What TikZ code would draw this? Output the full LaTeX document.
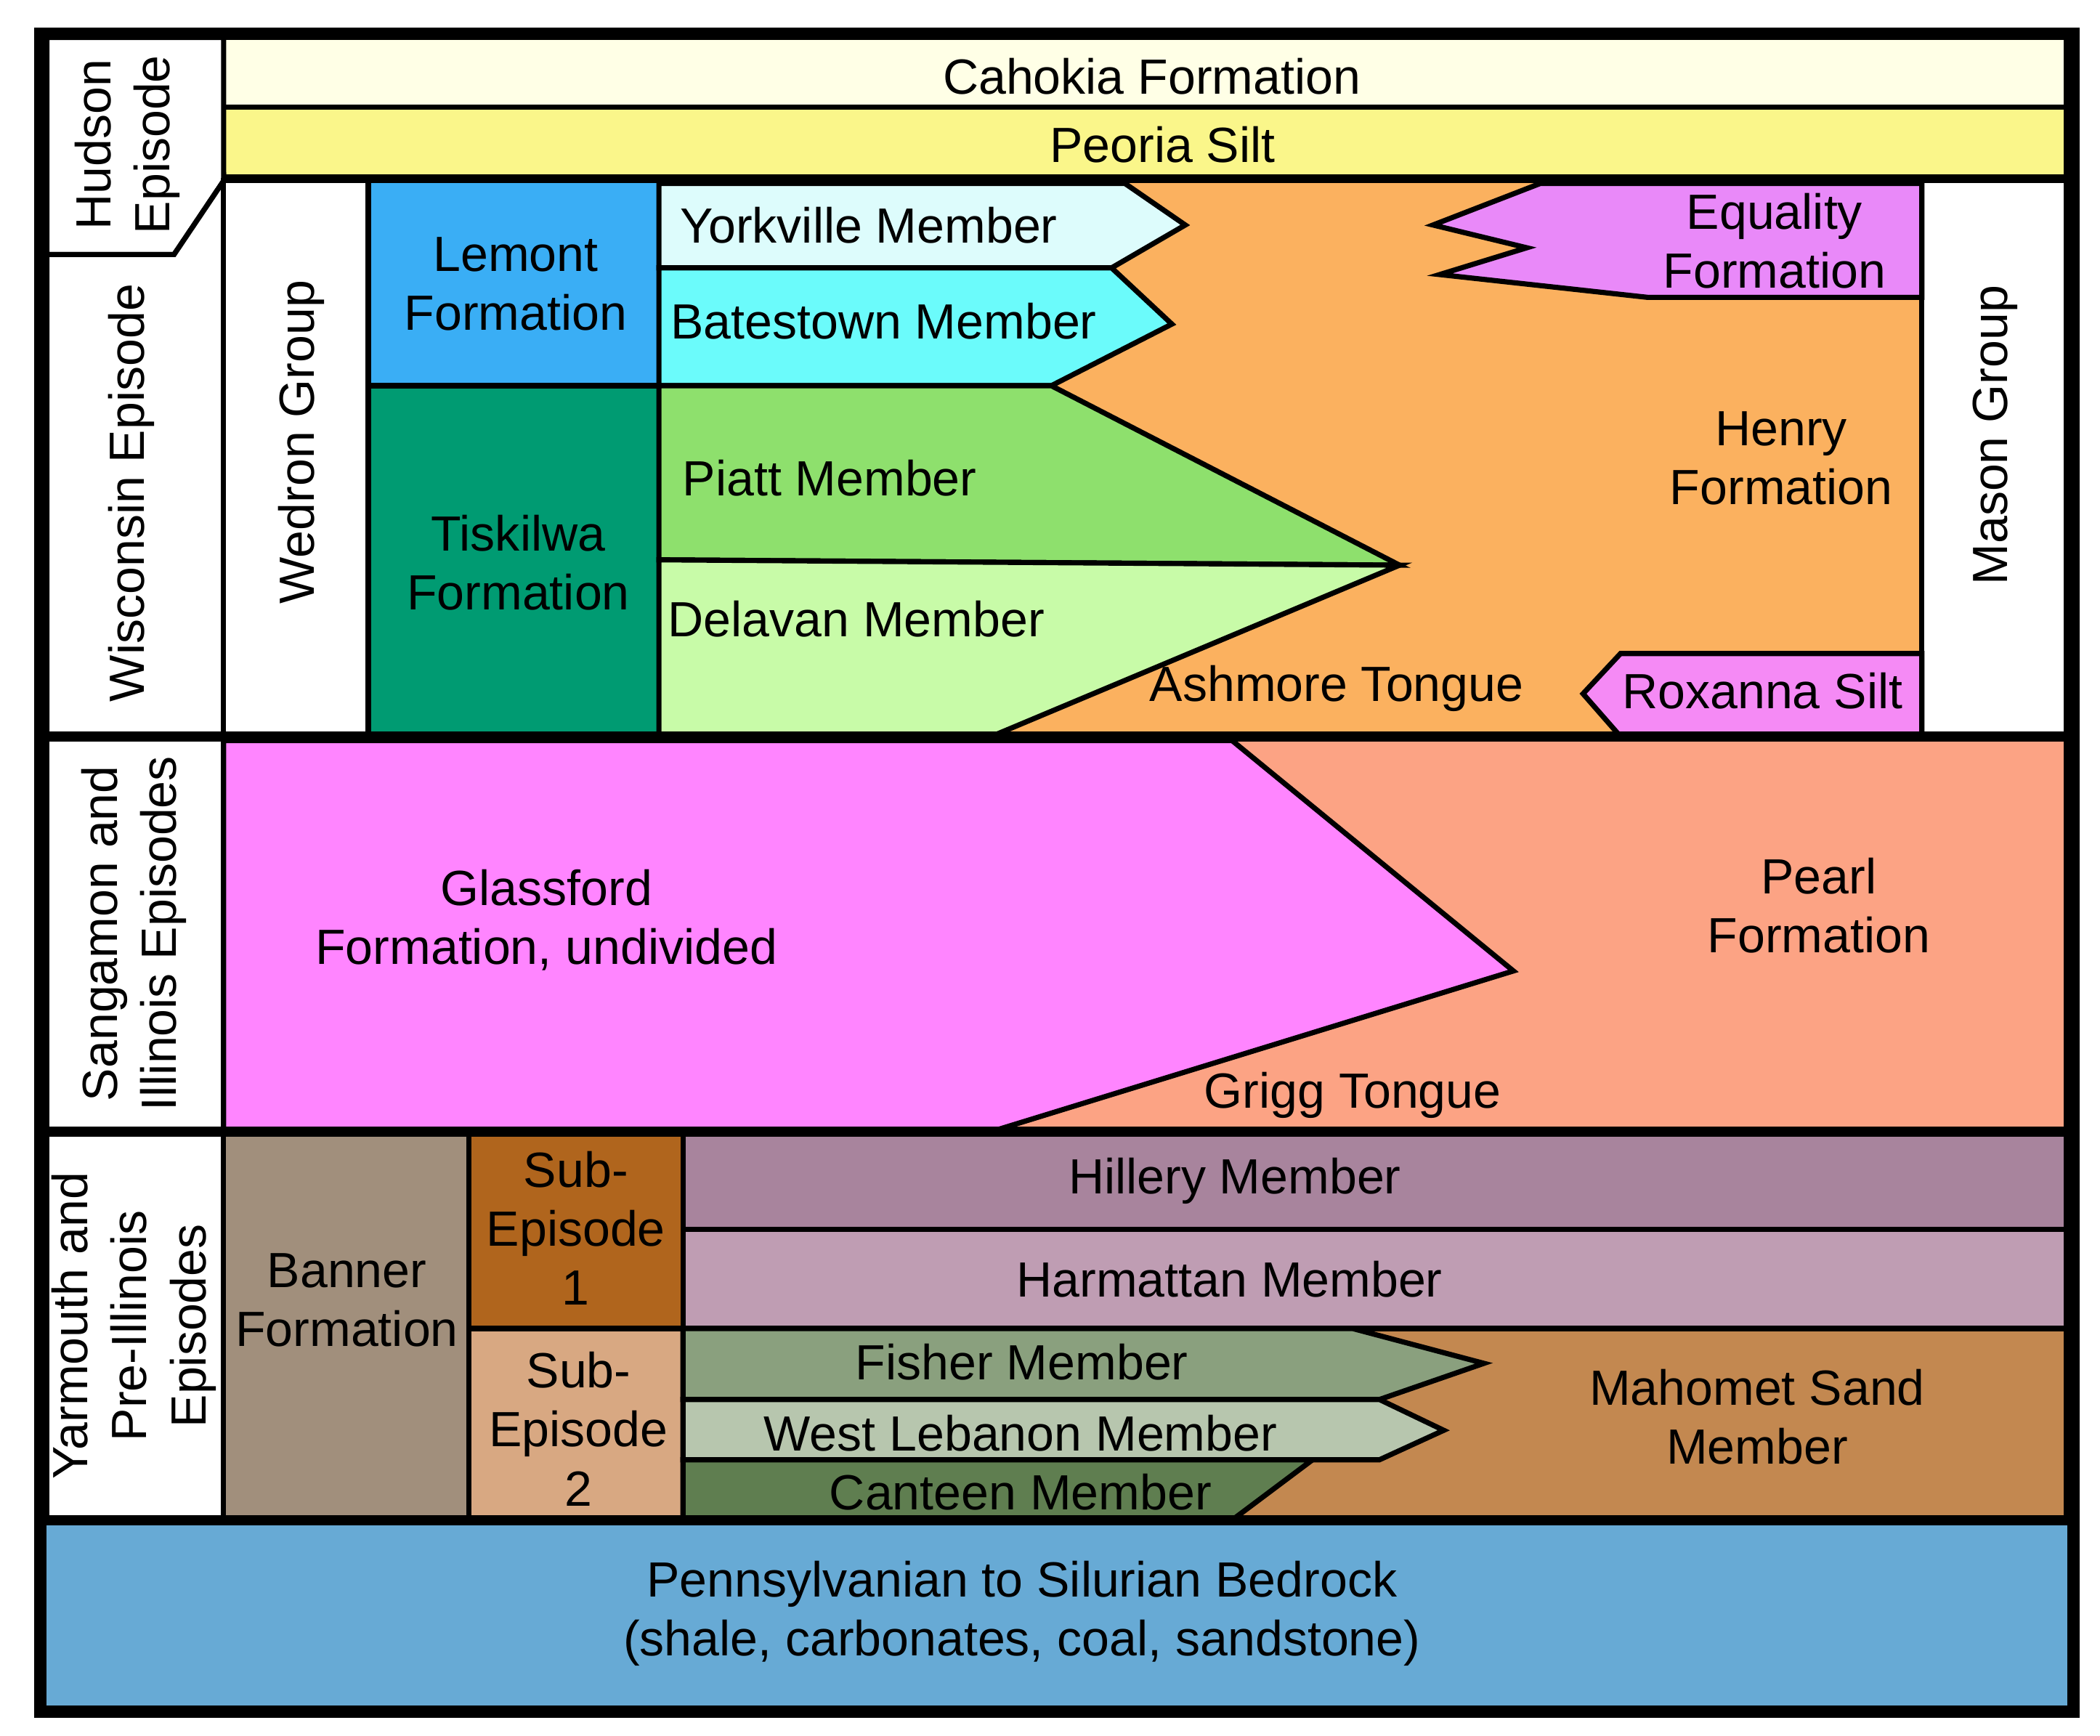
\documentclass[tikz,border=0pt]{standalone}
\usepackage{fontspec}
\setmainfont{Liberation Sans}
\begin{document}
\begin{tikzpicture}[x=0.01cm,y=-0.01cm,
 ln/.style={draw=black,line width=1.1pt,line join=miter},
 lbl/.style={font=\fontsize{10.5}{12.5}\selectfont,align=center,inner sep=0pt},
 vlbl/.style={lbl,rotate=90}]
\useasboundingbox (0,0) rectangle (1568,1296);
\fill[white] (0,0) rectangle (1568,1296);
\definecolor{cah}{HTML}{FFFFE6}\definecolor{peo}{HTML}{FAF68A}
\definecolor{lem}{HTML}{3AAEF5}\definecolor{tis}{HTML}{009B72}
\definecolor{york}{HTML}{DDFCFC}\definecolor{bat}{HTML}{6BFBFB}
\definecolor{pia}{HTML}{8EE06D}\definecolor{del}{HTML}{C8FBA8}
\definecolor{hen}{HTML}{FBB15F}\definecolor{equ}{HTML}{E989F9}
\definecolor{rox}{HTML}{F58AF5}\definecolor{gla}{HTML}{FF85FF}
\definecolor{pea}{HTML}{FCA384}\definecolor{ban}{HTML}{A18F7C}
\definecolor{sba}{HTML}{B0651D}\definecolor{sbb}{HTML}{D8A882}
\definecolor{hil}{HTML}{A8849D}\definecolor{har}{HTML}{BF9DB3}
\definecolor{mah}{HTML}{C38850}\definecolor{fis}{HTML}{8AA07E}
\definecolor{wle}{HTML}{B7C6AE}\definecolor{can}{HTML}{5F7E50}
\definecolor{bed}{HTML}{67AAD5}
% top
\draw[ln,fill=cah] (167,28) rectangle (1543,80);
\draw[ln,fill=peo] (167,80) rectangle (1543,132);
% left column
\draw[ln,fill=white] (35,28) -- (167,28) -- (167,135) -- (130,190) -- (35,190) -- cycle;
\draw[ln,fill=white] (35,190) -- (130,190) -- (167,135) -- (167,550) -- (35,550) -- cycle;
\draw[ln,fill=white] (35,550) rectangle (167,845);
\draw[ln,fill=white] (35,845) rectangle (167,1135);
% Wisconsin row
\draw[ln,fill=white] (167,135) rectangle (275,550);
\draw[ln,fill=hen] (492,135) rectangle (1435,550);
\draw[ln,fill=white] (1435,135) rectangle (1543,550);
\draw[ln,fill=lem] (275,135) rectangle (492,288);
\draw[ln,fill=tis] (275,288) rectangle (492,550);
\draw[ln,fill=york] (492,137) -- (840,137) -- (885,168) -- (830,200) -- (492,200) -- cycle;
\draw[ln,fill=bat] (492,200) -- (830,200) -- (875,242) -- (785,288) -- (492,288) -- cycle;
\draw[ln,fill=pia] (492,288) -- (785,288) -- (1045,422) -- (492,418) -- cycle;
\draw[ln,fill=del] (492,418) -- (1045,422) -- (740,550) -- (492,550) -- cycle;
\draw[ln,fill=equ] (1150,137) -- (1435,137) -- (1435,222) -- (1230,222) -- (1075,205) -- (1140,185) -- (1070,168) -- cycle;
\draw[ln,fill=rox] (1210,488) -- (1435,488) -- (1435,550) -- (1210,550) -- (1182,518) -- cycle;
% Sangamon row
\draw[ln,fill=pea] (167,550) rectangle (1543,845);
\draw[ln,fill=gla] (167,553) -- (920,553) -- (1130,725) -- (740,845) -- (167,845) -- cycle;
% Yarmouth row
\draw[ln,fill=ban] (167,845) rectangle (350,1135);
\draw[ln,fill=sba] (350,845) rectangle (510,992);
\draw[ln,fill=sbb] (350,992) rectangle (510,1135);
\draw[ln,fill=hil] (510,845) rectangle (1543,918);
\draw[ln,fill=har] (510,918) rectangle (1543,992);
\draw[ln,fill=mah] (510,992) rectangle (1543,1135);
\draw[ln,fill=fis] (510,992) -- (1010,992) -- (1108,1018) -- (1030,1045) -- (510,1045) -- cycle;
\draw[ln,fill=wle] (510,1045) -- (1030,1045) -- (1078,1068) -- (1030,1090) -- (510,1090) -- cycle;
\draw[ln,fill=can] (510,1090) -- (980,1090) -- (920,1135) -- (510,1135) -- cycle;
% bedrock
\draw[ln,fill=bed] (30,1135) rectangle (1548,1278);
% outer frame
\draw[line width=2.6pt] (30,25) rectangle (1548,1278);
\draw[line width=2.2pt] (30,550) -- (1548,550) (30,845) -- (1548,845) (30,1135) -- (1548,1135);
% labels
\node[vlbl] (hud) at (95,108) {Hudson\\Episode};
\node[vlbl] (wis) at (98,368) {Wisconsin Episode};
\node[vlbl] (san) at (100,697) {Sangamon and\\Illinois Episodes};
\node[vlbl] (yar) at (100,990) {Yarmouth and\\Pre-Illinois\\Episodes};
\node[lbl] (cahk) at (860,57) {Cahokia Formation};
\node[lbl] (peor) at (868,108) {Peoria Silt};
\node[vlbl] (wed) at (225,330) {Wedron Group};
\node[vlbl] (mas) at (1490,325) {Mason Group};
\node[lbl] (lemt) at (385,212) {Lemont\\Formation};
\node[lbl] (tisk) at (387,420) {Tiskilwa\\Formation};
\node[lbl,anchor=west] (yrk) at (507,168) {Yorkville Member};
\node[lbl,anchor=west] (bst) at (500,240) {Batestown Member};
\node[lbl,anchor=west] (pit) at (509,357) {Piatt Member};
\node[lbl,anchor=west] (dlv) at (498,462) {Delavan Member};
\node[lbl] (eqt) at (1325,180) {Equality\\Formation};
\node[lbl] (hnr) at (1330,342) {Henry\\Formation};
\node[lbl] (ash) at (998,514) {Ashmore Tongue};
\node[lbl] (rxs) at (1316,516) {Roxanna Silt};
\node[lbl] (gls) at (408,687) {Glassford\\Formation, undivided};
\node[lbl] (prl) at (1358,676) {Pearl\\Formation};
\node[lbl] (grg) at (1010,818) {Grigg Tongue};
\node[lbl] (bnr) at (259,971) {Banner\\Formation};
\node[lbl] (se1) at (430,917) {Sub-\\Episode\\1};
\node[lbl] (se2) at (432,1067) {Sub-\\Episode\\2};
\node[lbl] (hlr) at (922,882) {Hillery Member};
\node[lbl] (hrm) at (918,955) {Harmattan Member};
\node[lbl] (fsh) at (763,1017) {Fisher Member};
\node[lbl] (wlb) at (762,1070) {West Lebanon Member};
\node[lbl] (cnt) at (762,1114) {Canteen Member};
\node[lbl] (mhm) at (1312,1058) {Mahomet Sand\\Member};
\node[lbl] (bdr) at (763,1205) {Pennsylvanian to Silurian Bedrock\\(shale, carbonates, coal, sandstone)};
\end{tikzpicture}
\end{document}
